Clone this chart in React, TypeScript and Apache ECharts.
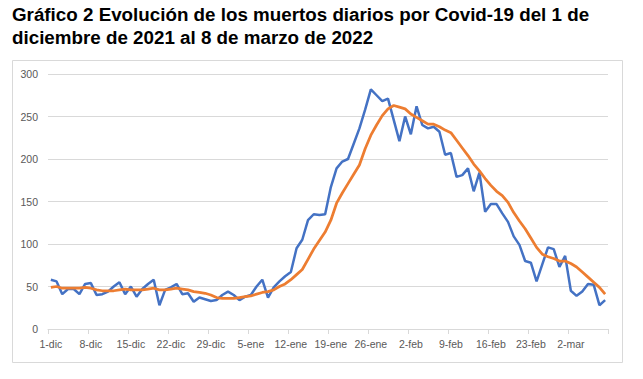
import React, { useEffect, useRef } from "react";
import * as echarts from "echarts";

const monthNames = ["dic", "ene", "feb", "mar"];
const monthDays = [31, 31, 28, 8];
const categories: string[] = [];
monthNames.forEach((m, k) => {
  for (let d = 1; d <= monthDays[k]; d++) categories.push(`${d}-${m}`);
});

const dailyDeaths = [
  58, 56, 41, 47, 47, 41, 53, 54, 40, 41,
  44, 50, 55, 41, 50, 38, 47, 53, 58, 28,
  46, 49, 53, 41, 42, 32, 37, 35, 33, 34,
  40, 44, 40, 34, 38, 40, 50, 58, 37, 49,
  56, 62, 67, 95, 105, 128, 135, 134, 135, 167,
  189, 197, 200, 218, 236, 258, 282, 275, 268, 271,
  246, 221, 250, 229, 262, 240, 236, 238, 232, 205,
  207, 179, 181, 189, 162, 184, 138, 147, 147, 136,
  126, 109, 99, 80, 78, 56, 76, 96, 94, 73,
  86, 45, 39, 44, 53, 52, 28, 34,
];

const movingAverage = [
  49, 50, 48, 48, 48, 48, 49, 48, 46, 45,
  45, 45, 46, 47, 46, 46, 46, 47, 48, 46,
  46, 47, 48, 47, 46, 44, 43, 42, 40, 37,
  36, 36, 36, 37, 38, 39, 41, 43, 44, 46,
  50, 53, 58, 64, 70, 82, 94, 104, 114, 128,
  148, 160, 171, 182, 193, 212, 228, 240, 251, 259,
  263, 261, 259, 253, 249, 245, 241, 241, 238, 234,
  231, 222, 213, 204, 194, 186, 177, 169, 162, 157,
  149, 137, 127, 118, 107, 96, 88, 85, 83, 80,
  80, 77, 73, 67, 61, 55, 49, 41,
];

const titleLines = [
  "Gráfico 2 Evolución de los muertos diarios por Covid-19 del 1 de",
  "diciembre de 2021 al 8 de marzo de 2022",
];

export default function App() {
  const ref = useRef<HTMLDivElement>(null);
  useEffect(() => {
    document.body.style.margin = "0";
    const chart = echarts.init(ref.current!, null, { renderer: "svg" });
    chart.setOption({
      animation: false,
      backgroundColor: "#ffffff",
      graphic: [
        {
          type: "rect",
          shape: { x: 12.5, y: 60.5, width: 610, height: 302 },
          style: { fill: "none", stroke: "#d9d9d9", lineWidth: 1 },
          silent: true,
        },
        ...titleLines.map((t, k) => ({
          type: "text",
          x: 12,
          y: 14 + k * 23,
          silent: true,
          style: {
            text: t,
            fill: "#000000",
            font: "bold 18.8px 'Liberation Sans', Arial, sans-serif",
            textVerticalAlign: "middle",
            verticalAlign: "middle",
          },
        })),
      ],
      grid: { left: 48, right: 35, top: 74, bottom: 50, containLabel: false },
      xAxis: {
        type: "category",
        data: categories,
        boundaryGap: true,
        axisLine: { lineStyle: { color: "#d9d9d9" } },
        axisTick: { show: true, interval: 6, length: 5, lineStyle: { color: "#d9d9d9" } },
        axisLabel: {
          interval: 6,
          color: "#595959",
          fontFamily: "Liberation Sans",
          fontSize: 10.5,
          margin: 9,
        },
      },
      yAxis: {
        type: "value",
        min: 0,
        max: 300,
        interval: 50,
        axisLine: { show: false },
        axisTick: { show: false },
        splitLine: { lineStyle: { color: "#d9d9d9" } },
        axisLabel: {
          color: "#595959",
          fontFamily: "Liberation Sans",
          fontSize: 10.5,
          margin: 10,
        },
      },
      series: [
        {
          name: "Muertos diarios",
          type: "line",
          data: dailyDeaths,
          showSymbol: false,
          lineStyle: { color: "#4472C4", width: 2.5 },
          itemStyle: { color: "#4472C4" },
        },
        {
          name: "Media móvil 7 días",
          type: "line",
          data: movingAverage,
          showSymbol: false,
          lineStyle: { color: "#ED7D31", width: 2.75 },
          itemStyle: { color: "#ED7D31" },
        },
      ],
    });
    return () => chart.dispose();
  }, []);
  return <div ref={ref} style={{ width: 643, height: 379 }} />;
}
